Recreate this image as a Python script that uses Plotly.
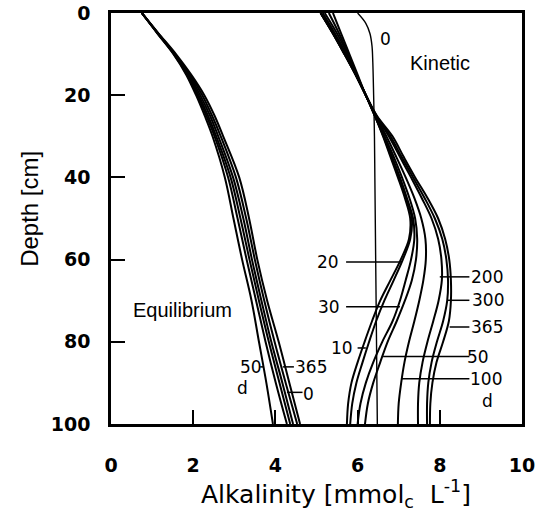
import plotly.graph_objects as go

# ---------------- data ----------------
# Kinetic model profiles (alkalinity vs depth), one list per day
K_DEPTH = [0, 5, 10, 15, 20, 25, 30, 35, 40, 45, 50, 55, 60, 65, 70, 75, 80, 85, 90, 95, 100]
K0_DEPTH = [0, 2.5, 5, 8, 12, 20, 30, 40, 50, 60, 70, 80, 90, 100]
K0_ALK = [6.0, 6.2, 6.3, 6.35, 6.37, 6.39, 6.41, 6.42, 6.43, 6.44, 6.45, 6.46, 6.47, 6.48]
K10 = [5.4, 5.6, 5.8, 6.0, 6.2, 6.42, 6.62, 6.8, 6.98, 7.15, 7.28, 7.25, 7.05, 6.8, 6.55, 6.35, 6.17, 6.0, 5.85, 5.77, 5.74]
K20 = [5.3, 5.55, 5.77, 5.98, 6.2, 6.42, 6.63, 6.82, 7.0, 7.18, 7.32, 7.28, 7.1, 6.88, 6.65, 6.45, 6.28, 6.12, 5.97, 5.87, 5.82]
K30 = [5.2, 5.5, 5.75, 5.97, 6.2, 6.42, 6.64, 6.84, 7.03, 7.2, 7.35, 7.38, 7.3, 7.17, 7.03, 6.85, 6.6, 6.38, 6.2, 6.07, 6.0]
K50 = [5.15, 5.45, 5.72, 5.96, 6.2, 6.43, 6.66, 6.88, 7.08, 7.26, 7.4, 7.45, 7.42, 7.32, 7.15, 6.95, 6.73, 6.55, 6.38, 6.25, 6.18]
K100 = [5.1, 5.42, 5.7, 5.95, 6.2, 6.44, 6.7, 6.94, 7.17, 7.38, 7.55, 7.65, 7.66, 7.6, 7.5, 7.38, 7.25, 7.14, 7.06, 7.0, 6.98]
K200 = [5.1, 5.4, 5.68, 5.95, 6.2, 6.45, 6.76, 7.03, 7.3, 7.56, 7.8, 7.96, 8.04, 8.05, 7.97, 7.84, 7.7, 7.58, 7.5, 7.47, 7.47]
K300 = [5.1, 5.4, 5.68, 5.95, 6.2, 6.46, 6.8, 7.07, 7.35, 7.63, 7.88, 8.06, 8.16, 8.2, 8.18, 8.08, 7.93, 7.8, 7.72, 7.69, 7.69]
K365 = [5.1, 5.4, 5.68, 5.95, 6.2, 6.47, 6.85, 7.12, 7.4, 7.7, 7.96, 8.13, 8.23, 8.27, 8.27, 8.22, 8.08, 7.92, 7.82, 7.77, 7.76]
KINETIC = [K10, K20, K30, K50, K100, K200, K300, K365]

# Equilibrium model profiles
E_DEPTH = [0, 5, 10, 15, 20, 25, 30, 40, 50, 60, 70, 80, 90, 100]
E50 = [0.75, 1.13, 1.52, 1.83, 2.07, 2.28, 2.47, 2.77, 2.98, 3.19, 3.42, 3.6, 3.78, 3.94]
E_A = [0.75, 1.14, 1.53, 1.85, 2.1, 2.32, 2.52, 2.85, 3.08, 3.3, 3.53, 3.76, 4.01, 4.28]
E_B = [0.75, 1.14, 1.54, 1.87, 2.13, 2.36, 2.56, 2.91, 3.15, 3.37, 3.6, 3.84, 4.1, 4.36]
E_C = [0.75, 1.15, 1.55, 1.89, 2.17, 2.41, 2.61, 2.97, 3.22, 3.43, 3.66, 3.9, 4.17, 4.43]
E_D = [0.75, 1.15, 1.56, 1.92, 2.22, 2.46, 2.67, 3.04, 3.29, 3.5, 3.73, 3.98, 4.25, 4.53]
E_E = [0.75, 1.16, 1.58, 1.95, 2.27, 2.52, 2.73, 3.12, 3.36, 3.56, 3.8, 4.08, 4.34, 4.6]
EQUIL = [E50, E_A, E_B, E_C, E_D, E_E]

X_TICKS = [0, 2, 4, 6, 8, 10]
Y_TICKS = [0, 20, 40, 60, 80, 100]

# labels: (text, x, y, leader start, leader end)
K_LABELS_LEFT = [("20", 5.28, 60.6, 5.72, 7.08), ("30", 5.3, 71.5, 5.72, 7.03), ("10", 5.62, 81.5, 6.0, 6.2)]
K_LABELS_RIGHT = [("200", 9.15, 64.2, 8.0, 8.72), ("300", 9.17, 69.9, 8.18, 8.72),
                  ("365", 9.15, 76.4, 8.24, 8.72), ("50", 8.93, 83.6, 6.62, 8.72),
                  ("100", 9.12, 89.0, 7.08, 8.72)]

fig = go.Figure()

LBL = dict(family="DejaVu Sans", size=17, color="black")

for ys in EQUIL:
    fig.add_trace(go.Scatter(x=ys, y=E_DEPTH, mode="lines",
                             line=dict(color="black", width=2, shape="spline", smoothing=1.0),
                             hoverinfo="skip", showlegend=False))
for ys in KINETIC:
    fig.add_trace(go.Scatter(x=ys, y=K_DEPTH, mode="lines",
                             line=dict(color="black", width=2, shape="spline", smoothing=1.0),
                             hoverinfo="skip", showlegend=False))
fig.add_trace(go.Scatter(x=K0_ALK, y=K0_DEPTH, mode="lines",
                         line=dict(color="black", width=1.4, shape="spline", smoothing=1.0),
                         hoverinfo="skip", showlegend=False))

shapes = []
annotations = []
for t, x, y, x0, x1 in K_LABELS_LEFT + K_LABELS_RIGHT:
    annotations.append(dict(x=x, y=y, xref="x", yref="y", text=t, showarrow=False, font=LBL))
    shapes.append(dict(type="line", xref="x", yref="y", x0=x0, x1=x1, y0=y, y1=y,
                       line=dict(color="black", width=1.5)))
annotations.append(dict(x=9.15, y=94.3, xref="x", yref="y", text="d", showarrow=False, font=LBL))
annotations.append(dict(x=6.68, y=6.3, xref="x", yref="y", text="0", showarrow=False, font=LBL))

# equilibrium labels
annotations.append(dict(x=3.41, y=86.1, xref="x", yref="y", text="50", showarrow=False, font=LBL))
shapes.append(dict(type="line", xref="x", yref="y", x0=3.63, x1=3.72, y0=86.1, y1=86.1,
                   line=dict(color="black", width=1.5)))
annotations.append(dict(x=3.21, y=91.3, xref="x", yref="y", text="d", showarrow=False, font=LBL))
annotations.append(dict(x=4.86, y=86.1, xref="x", yref="y", text="365", showarrow=False, font=LBL))
shapes.append(dict(type="line", xref="x", yref="y", x0=4.18, x1=4.45, y0=86.1, y1=86.1,
                   line=dict(color="black", width=1.5)))
annotations.append(dict(x=4.8, y=92.6, xref="x", yref="y", text="0", showarrow=False, font=LBL))
shapes.append(dict(type="line", xref="x", yref="y", x0=4.28, x1=4.66, y0=92.3, y1=92.3,
                   line=dict(color="black", width=1.5)))

annotations.append(dict(x=8.0, y=12.2, xref="x", yref="y", text="Kinetic", showarrow=False,
                        font=dict(family="Liberation Sans", size=20, color="black")))
annotations.append(dict(x=1.73, y=72.3, xref="x", yref="y", text="Equilibrium", showarrow=False,
                        font=dict(family="Liberation Sans", size=20, color="black")))

# axis titles
annotations.append(dict(x=0.547, y=-0.17, xref="paper", yref="paper", showarrow=False,
                        xanchor="center", yanchor="middle",
                        text="Alkalinity [mmol<sub>c</sub>  L<sup>-1</sup>]",
                        font=dict(family="DejaVu Sans", size=25, color="black")))
annotations.append(dict(x=-0.2, y=0.523, xref="paper", yref="paper", showarrow=False,
                        xanchor="center", yanchor="middle",
                        text="Depth [cm]", textangle=-90,
                        font=dict(family="Liberation Sans", size=24, color="black")))

TICKFONT = dict(family="DejaVu Sans", size=19, color="black", weight="bold")

fig.update_layout(
    width=535, height=511,
    margin=dict(l=111, r=13, t=13, b=87, autoexpand=False),
    paper_bgcolor="white", plot_bgcolor="white",
    shapes=shapes, annotations=annotations,
    xaxis=dict(range=[0, 10], tickvals=X_TICKS, ticktext=[str(v) for v in X_TICKS],
               showline=True, linecolor="black", linewidth=2.5, mirror=True,
               ticks="inside", ticklen=14, tickwidth=2, tickcolor="black", automargin=False,
               ticklabeloverflow="allow",
               showgrid=False, zeroline=False, tickfont=TICKFONT, ticklabelstandoff=22),
    yaxis=dict(range=[100, 0], tickvals=Y_TICKS, ticktext=[str(v) for v in Y_TICKS],
               showline=True, linecolor="black", linewidth=2.5, mirror=True,
               ticks="inside", ticklen=14, tickwidth=2, tickcolor="black", automargin=False,
               ticklabeloverflow="allow",
               showgrid=False, zeroline=False, tickfont=TICKFONT, ticklabelstandoff=14),
)

# remove the default page margin so the 535x511 figure fills the window exactly
fig.write_html("out.html", config={"displayModeBar": False},
               post_script="document.body.style.margin='0';document.body.style.overflow='hidden';")
